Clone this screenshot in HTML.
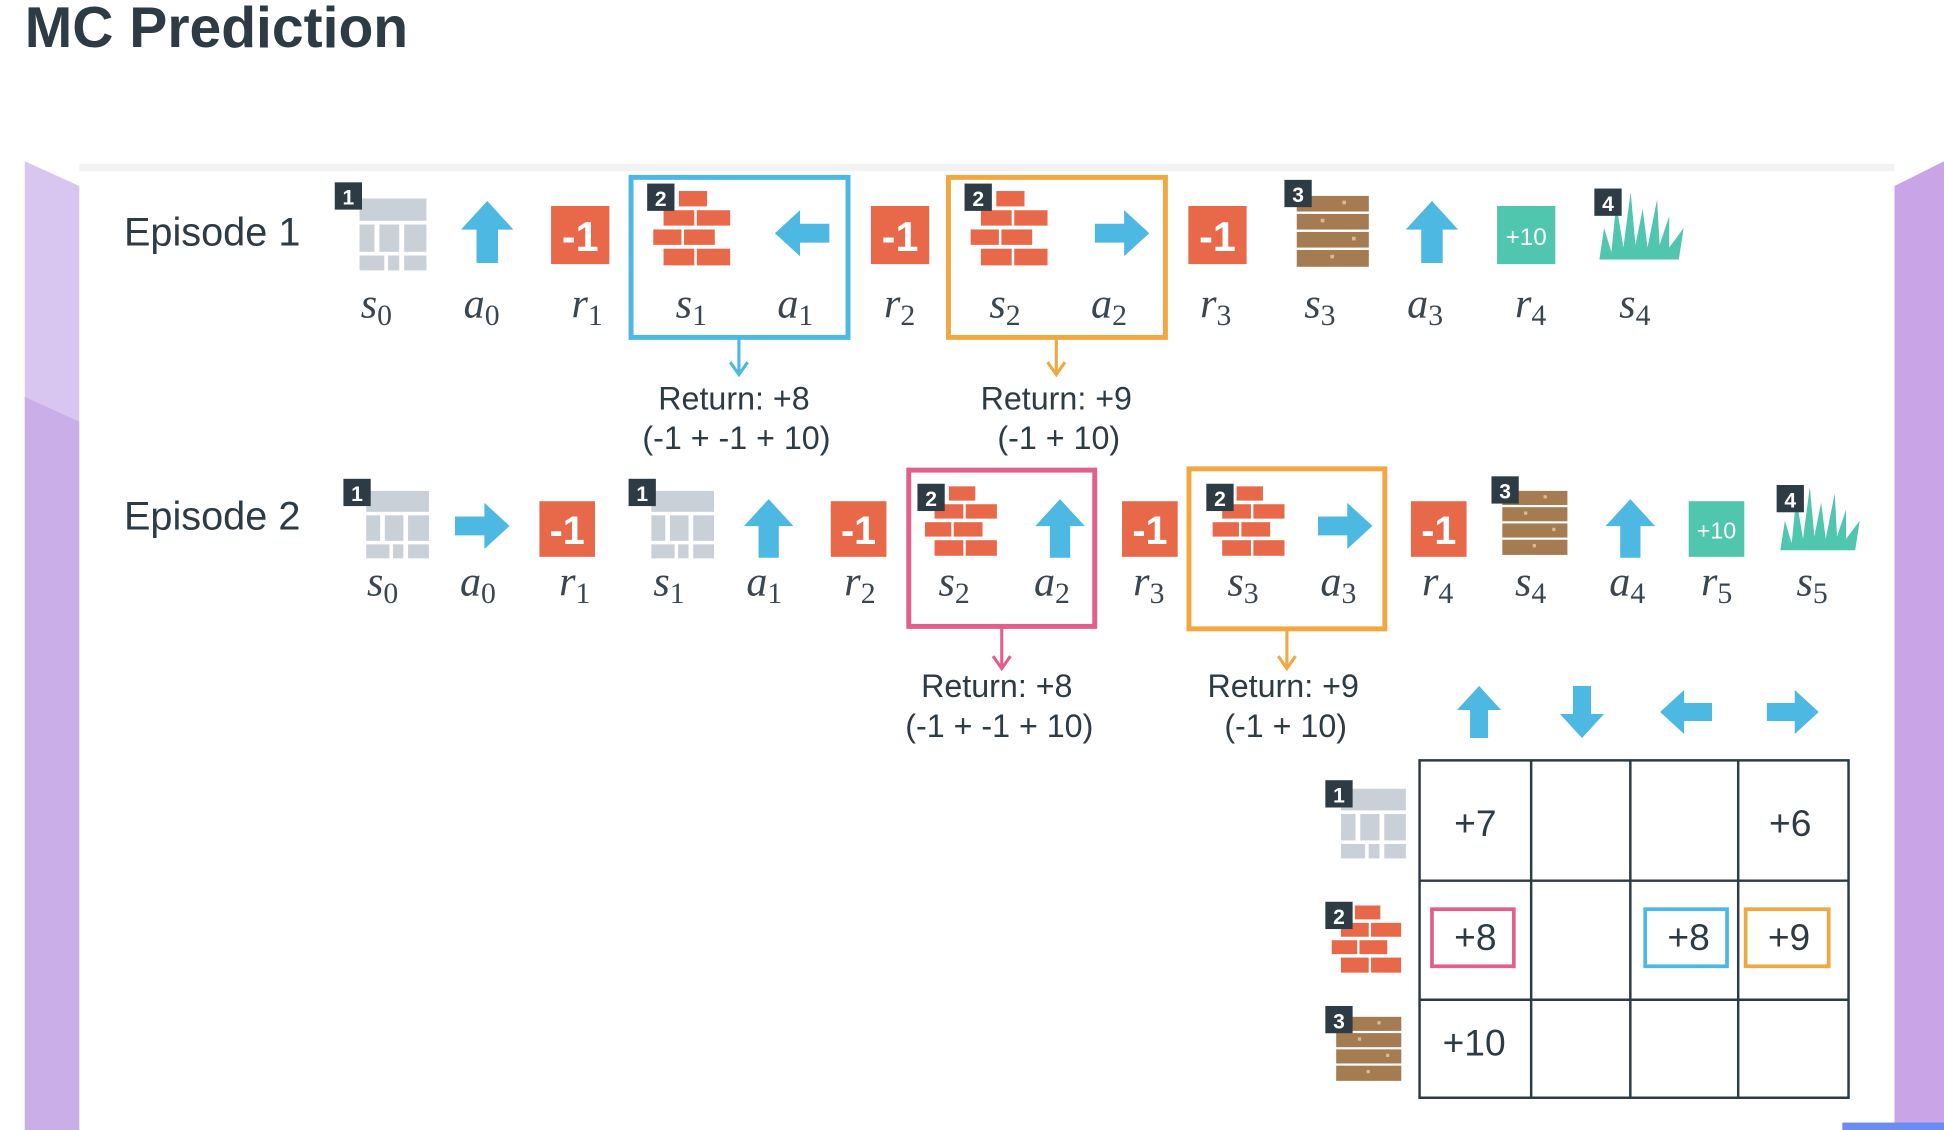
<!DOCTYPE html>
<html><head><meta charset="utf-8"><style>
html,body{margin:0;padding:0;background:#fff;width:1944px;height:1130px;overflow:hidden}
svg{display:block}
text{font-family:"Liberation Sans",sans-serif}
.m{font-family:"Liberation Serif",serif;font-style:italic;font-size:34px;fill:#3a4650}
.m tspan.s{font-style:normal;font-size:24px}
.r{font-size:26px;fill:#2d3b45;text-anchor:middle}
.b{font-size:17px;fill:#fff;font-weight:bold;text-anchor:middle}
.v{font-size:30px;fill:#2d3b45;text-anchor:middle}
</style></head><body>
<svg width="1944" height="1130" viewBox="0 0 1568 911" preserveAspectRatio="none">
<defs>
<symbol id="bld" viewBox="0 0 64 64"><g fill="#c9d0d8"><rect x="10" y="4" width="54" height="18"/><rect x="10" y="25" width="12" height="22"/><rect x="26" y="25" width="16" height="22"/><rect x="46" y="25" width="18" height="22"/><rect x="10" y="50" width="20" height="12"/><rect x="33" y="50" width="9" height="12"/><rect x="46" y="50" width="18" height="12"/></g></symbol>
<symbol id="brk" viewBox="0 0 64 60"><g fill="#e8694a"><rect x="20" y="0" width="22" height="12"/><rect x="8" y="15" width="24" height="12"/><rect x="34" y="15" width="26" height="12"/><rect x="0" y="30" width="22" height="12"/><rect x="24" y="30" width="24" height="12"/><rect x="8" y="45" width="24" height="13"/><rect x="34" y="45" width="26" height="13"/></g></symbol>
<symbol id="wood" viewBox="0 0 64 60"><g fill="#a57c52"><rect x="2" y="0" width="60" height="13"/><rect x="2" y="15" width="60" height="13"/><rect x="2" y="30" width="60" height="13"/><rect x="2" y="45" width="60" height="14"/></g><g fill="#d8bc96"><rect x="40" y="4" width="3" height="3"/><rect x="22" y="19" width="3" height="3"/><rect x="48" y="34" width="3" height="3"/><rect x="30" y="49" width="3" height="3"/></g></symbol>
<symbol id="grass" viewBox="0 0 70 56"><polygon fill="#4fc6ad" points="0,56 4,30 10,50 14,10 20,46 26,0 30,44 36,14 40,46 48,6 50,44 58,20 58,46 70,30 66,56"/></symbol>
<symbol id="up" viewBox="0 0 44 52"><polygon fill="#4db8e2" points="22,0 44,24 31,24 31,52 13,52 13,24 0,24"/></symbol>
<symbol id="m1" viewBox="0 0 48 48"><rect width="48" height="48" fill="#e8694a"/><text x="24" y="37" font-size="34" font-weight="bold" fill="#fff" text-anchor="middle" font-family="Liberation Sans">-1</text></symbol>
<symbol id="p10" viewBox="0 0 48 48"><rect width="48" height="48" fill="#4fc6ad"/><text x="24" y="32" font-size="20" fill="#fff" text-anchor="middle" font-family="Liberation Sans">+10</text></symbol>
</defs>
<!-- background -->
<polygon points="20,130 64,150 64,911 20,911" fill="#d9c6f0"/>
<polygon points="20,320 64,340 64,911 20,911" fill="#c9aee8"/>
<polygon points="1528,150 1568,130 1568,911 1528,911" fill="#c9a5e8"/>
<rect x="64" y="138" width="1464" height="773" fill="#fff"/>
<rect x="64" y="132" width="1464" height="6" fill="#f2f2f2"/>
<text x="20" y="38" font-size="46" font-weight="bold" fill="#2d3b45">MC Prediction</text>

<!-- Episode 1 -->
<text x="100" y="198" font-size="32" fill="#2d3b45">Episode 1</text>
<use href="#bld" x="280" y="156" width="64" height="64"/>
<rect x="270" y="147" width="22" height="22" fill="#2d3b45"/><text class="b" x="281" y="165">1</text>
<use href="#up" x="371" y="162" width="44" height="50"/>
<use href="#m1" x="444" y="166" width="48" height="47"/>
<use href="#brk" x="526" y="154" width="68" height="62"/>
<rect x="522" y="148" width="22" height="22" fill="#2d3b45"/><text class="b" x="533" y="166">2</text>
<use href="#up" x="623" y="166" width="48" height="44" transform="rotate(-90 647 188)"/>
<use href="#m1" x="702" y="166" width="48" height="47"/>
<use href="#brk" x="782" y="154" width="68" height="62"/>
<rect x="778" y="148" width="22" height="22" fill="#2d3b45"/><text class="b" x="789" y="166">2</text>
<use href="#up" x="881" y="166" width="48" height="44" transform="rotate(90 905 188)"/>
<use href="#m1" x="958" y="166" width="48" height="47"/>
<use href="#wood" x="1044" y="157" width="62" height="60"/>
<rect x="1036" y="145" width="22" height="22" fill="#2d3b45"/><text class="b" x="1047" y="163">3</text>
<use href="#up" x="1133" y="162" width="44" height="50"/>
<use href="#p10" x="1207" y="166" width="48" height="47"/>
<use href="#grass" x="1290" y="154" width="68" height="56"/>
<rect x="1286" y="152" width="22" height="22" fill="#2d3b45"/><text class="b" x="1297" y="170">4</text>

<text class="m" x="291" y="256">s<tspan class="s" dy="6">0</tspan></text>
<text class="m" x="374" y="256">a<tspan class="s" dy="6">0</tspan></text>
<text class="m" x="461" y="256">r<tspan class="s" dy="6">1</tspan></text>
<text class="m" x="545" y="256">s<tspan class="s" dy="6">1</tspan></text>
<text class="m" x="627" y="256">a<tspan class="s" dy="6">1</tspan></text>
<text class="m" x="713" y="256">r<tspan class="s" dy="6">2</tspan></text>
<text class="m" x="798" y="256">s<tspan class="s" dy="6">2</tspan></text>
<text class="m" x="880" y="256">a<tspan class="s" dy="6">2</tspan></text>
<text class="m" x="968" y="256">r<tspan class="s" dy="6">3</tspan></text>
<text class="m" x="1052" y="256">s<tspan class="s" dy="6">3</tspan></text>
<text class="m" x="1135" y="256">a<tspan class="s" dy="6">3</tspan></text>
<text class="m" x="1222" y="256">r<tspan class="s" dy="6">4</tspan></text>
<text class="m" x="1306" y="256">s<tspan class="s" dy="6">4</tspan></text>

<rect x="509" y="143" width="175" height="129" fill="none" stroke="#4db8e2" stroke-width="4"/>
<line x1="596" y1="272" x2="596" y2="300" stroke="#4db8e2" stroke-width="2.5"/><polyline points="589,292 596,302 603,292" fill="none" stroke="#4db8e2" stroke-width="2.5"/>
<rect x="765" y="143" width="175" height="129" fill="none" stroke="#f0a842" stroke-width="4"/>
<line x1="852" y1="272" x2="852" y2="300" stroke="#f0a842" stroke-width="2.5"/><polyline points="845,292 852,302 859,292" fill="none" stroke="#f0a842" stroke-width="2.5"/>
<text class="r" x="592" y="330">Return: +8</text><text class="r" x="594" y="362">(-1 + -1 + 10)</text>
<text class="r" x="852" y="330">Return: +9</text><text class="r" x="854" y="362">(-1 + 10)</text>

<!-- Episode 2 -->
<text x="100" y="427" font-size="32" fill="#2d3b45">Episode 2</text>
<use href="#bld" x="286" y="392" width="60" height="60"/>
<rect x="277" y="386" width="22" height="22" fill="#2d3b45"/><text class="b" x="288" y="404">1</text>
<use href="#up" x="366" y="402" width="46" height="44" transform="rotate(90 389 424)"/>
<use href="#m1" x="435" y="404" width="45" height="45"/>
<use href="#bld" x="516" y="392" width="60" height="60"/>
<rect x="507" y="386" width="22" height="22" fill="#2d3b45"/><text class="b" x="518" y="404">1</text>
<use href="#up" x="600" y="402" width="40" height="48"/>
<use href="#m1" x="670" y="404" width="45" height="45"/>
<use href="#brk" x="746" y="392" width="62" height="58"/>
<rect x="740" y="390" width="22" height="22" fill="#2d3b45"/><text class="b" x="751" y="408">2</text>
<use href="#up" x="835" y="402" width="40" height="48"/>
<use href="#m1" x="905" y="404" width="45" height="45"/>
<use href="#brk" x="978" y="392" width="62" height="58"/>
<rect x="973" y="390" width="22" height="22" fill="#2d3b45"/><text class="b" x="984" y="408">2</text>
<use href="#up" x="1062" y="402" width="46" height="44" transform="rotate(90 1085 424)"/>
<use href="#m1" x="1138" y="404" width="45" height="45"/>
<use href="#wood" x="1210" y="394" width="56" height="56"/>
<rect x="1203" y="384" width="22" height="22" fill="#2d3b45"/><text class="b" x="1214" y="402">3</text>
<use href="#up" x="1295" y="402" width="40" height="48"/>
<use href="#p10" x="1362" y="404" width="45" height="45"/>
<use href="#grass" x="1436" y="392" width="64" height="52"/>
<rect x="1433" y="391" width="22" height="22" fill="#2d3b45"/><text class="b" x="1444" y="409">4</text>

<text class="m" x="296" y="480">s<tspan class="s" dy="6">0</tspan></text>
<text class="m" x="371" y="480">a<tspan class="s" dy="6">0</tspan></text>
<text class="m" x="451" y="480">r<tspan class="s" dy="6">1</tspan></text>
<text class="m" x="527" y="480">s<tspan class="s" dy="6">1</tspan></text>
<text class="m" x="602" y="480">a<tspan class="s" dy="6">1</tspan></text>
<text class="m" x="681" y="480">r<tspan class="s" dy="6">2</tspan></text>
<text class="m" x="757" y="480">s<tspan class="s" dy="6">2</tspan></text>
<text class="m" x="834" y="480">a<tspan class="s" dy="6">2</tspan></text>
<text class="m" x="914" y="480">r<tspan class="s" dy="6">3</tspan></text>
<text class="m" x="990" y="480">s<tspan class="s" dy="6">3</tspan></text>
<text class="m" x="1065" y="480">a<tspan class="s" dy="6">3</tspan></text>
<text class="m" x="1147" y="480">r<tspan class="s" dy="6">4</tspan></text>
<text class="m" x="1222" y="480">s<tspan class="s" dy="6">4</tspan></text>
<text class="m" x="1298" y="480">a<tspan class="s" dy="6">4</tspan></text>
<text class="m" x="1372" y="480">r<tspan class="s" dy="6">5</tspan></text>
<text class="m" x="1449" y="480">s<tspan class="s" dy="6">5</tspan></text>

<rect x="733" y="379" width="150" height="126" fill="none" stroke="#e0608a" stroke-width="4"/>
<line x1="808" y1="505" x2="808" y2="537" stroke="#e0608a" stroke-width="2.5"/><polyline points="801,529 808,539 815,529" fill="none" stroke="#e0608a" stroke-width="2.5"/>
<rect x="959" y="378" width="158" height="129" fill="none" stroke="#f0a842" stroke-width="4"/>
<line x1="1038" y1="507" x2="1038" y2="537" stroke="#f0a842" stroke-width="2.5"/><polyline points="1031,529 1038,539 1045,529" fill="none" stroke="#f0a842" stroke-width="2.5"/>
<text class="r" x="804" y="562">Return: +8</text><text class="r" x="806" y="594">(-1 + -1 + 10)</text>
<text class="r" x="1035" y="562">Return: +9</text><text class="r" x="1037" y="594">(-1 + 10)</text>

<!-- Table -->
<use href="#up" x="1174" y="553" width="38" height="42"/>
<use href="#up" x="1257" y="553" width="38" height="42" transform="rotate(180 1276 574)"/>
<use href="#up" x="1341" y="553" width="38" height="42" transform="rotate(-90 1360 574)"/>
<use href="#up" x="1427" y="553" width="38" height="42" transform="rotate(90 1446 574)"/>
<g stroke="#2d3b45" stroke-width="2" fill="none">
<rect x="1145" y="613" width="346" height="272"/>
<line x1="1235" y1="613" x2="1235" y2="885"/><line x1="1315" y1="613" x2="1315" y2="885"/><line x1="1402" y1="613" x2="1402" y2="885"/>
<line x1="1145" y1="710" x2="1491" y2="710"/><line x1="1145" y1="806" x2="1491" y2="806"/>
</g>
<use href="#bld" x="1072" y="632" width="62" height="62"/>
<rect x="1069" y="629" width="22" height="22" fill="#2d3b45"/><text class="b" x="1080" y="647">1</text>
<use href="#brk" x="1074" y="730" width="60" height="56"/>
<rect x="1069" y="727" width="22" height="22" fill="#2d3b45"/><text class="b" x="1080" y="745">2</text>
<use href="#wood" x="1076" y="819" width="56" height="54"/>
<rect x="1069" y="811" width="22" height="22" fill="#2d3b45"/><text class="b" x="1080" y="829">3</text>
<text class="v" x="1190" y="674">+7</text>
<text class="v" x="1444" y="674">+6</text>
<rect x="1155" y="733" width="66" height="46" fill="none" stroke="#e0608a" stroke-width="3"/>
<rect x="1327" y="733" width="66" height="46" fill="none" stroke="#4db8e2" stroke-width="3"/>
<rect x="1408" y="733" width="67" height="46" fill="none" stroke="#f0a842" stroke-width="3"/>
<text class="v" x="1190" y="766">+8</text>
<text class="v" x="1362" y="766">+8</text>
<text class="v" x="1443" y="766">+9</text>
<text class="v" x="1189" y="851">+10</text>
<rect x="1486" y="905" width="82" height="6" fill="#6b8cf0"/>
</svg>
</body></html>
